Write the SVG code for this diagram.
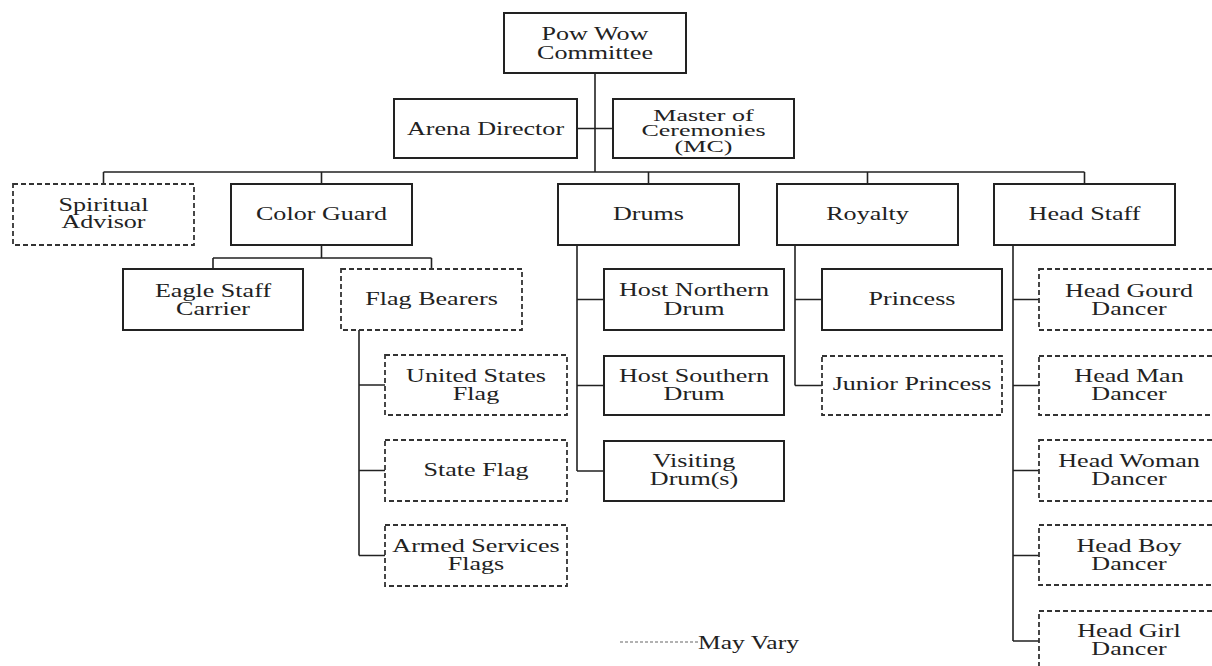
<svg xmlns="http://www.w3.org/2000/svg" width="1212" height="666" viewBox="0 0 1212 666">
<style>
.b{fill:#fff;stroke:#222;stroke-width:2}
.d{fill:#fff;stroke:#333;stroke-width:1.8;stroke-dasharray:5 3}
.c{fill:none;stroke:#222;stroke-width:1.6}
text{font-family:"Liberation Serif","Times New Roman",serif;font-size:18px;fill:#222;text-anchor:middle}
.s{font-size:17px}
</style>
<rect width="1212" height="666" fill="#fff"/>
<g id="connectors">
<path class="c" d="M595 73V172M577 128.5H613M103.5 172H1084.5M103.5 172V184M321.5 172V184M648.5 172V184M867.5 172V184M1084.5 172V184"/>
<path class="c" d="M321.5 245V258M213 258H431.5M213 258V269M431.5 258V269"/>
<path class="c" d="M359 330V555.5M359 385H385M359 470.5H385M359 555.5H385"/>
<path class="c" d="M577 245V471M577 299.5H604M577 385.5H604M577 471H604"/>
<path class="c" d="M795 245V385.5M795 299.5H822M795 385.5H822"/>
<path class="c" d="M1013 245V641M1013 299.5H1039M1013 385.5H1039M1013 470.5H1039M1013 555.5H1039M1013 641H1039"/>
</g>
<g id="powwow"><rect class="b" x="504" y="13" width="182" height="60"/><text transform="translate(595 40) scale(1.45 1)">Pow Wow</text><text transform="translate(595 59) scale(1.45 1)">Committee</text></g>
<g id="arena"><rect class="b" x="394" y="99" width="183" height="59"/><text transform="translate(485.5 135) scale(1.45 1)">Arena Director</text></g>
<g id="mc"><rect class="b" x="613" y="99" width="181" height="59"/><text class="s" transform="translate(703.5 120.5) scale(1.53 1)">Master of</text><text class="s" transform="translate(703.5 136) scale(1.53 1)">Ceremonies</text><text class="s" transform="translate(703.5 151.5) scale(1.53 1)">(MC)</text></g>
<g id="spiritual"><rect class="d" x="13" y="184" width="181" height="61"/><text transform="translate(103.5 211) scale(1.45 1)">Spiritual</text><text transform="translate(103.5 228) scale(1.45 1)">Advisor</text></g>
<g id="colorguard"><rect class="b" x="231" y="184" width="181" height="61"/><text transform="translate(321.5 220) scale(1.45 1)">Color Guard</text></g>
<g id="drums"><rect class="b" x="558" y="184" width="181" height="61"/><text transform="translate(648.5 220) scale(1.45 1)">Drums</text></g>
<g id="royalty"><rect class="b" x="777" y="184" width="181" height="61"/><text transform="translate(867.5 220) scale(1.45 1)">Royalty</text></g>
<g id="headstaff"><rect class="b" x="994" y="184" width="181" height="61"/><text transform="translate(1084.5 220) scale(1.45 1)">Head Staff</text></g>
<g id="eagle"><rect class="b" x="123" y="269" width="180" height="61"/><text transform="translate(213 297) scale(1.45 1)">Eagle Staff</text><text transform="translate(213 315) scale(1.45 1)">Carrier</text></g>
<g id="flagbearers"><rect class="d" x="341" y="269" width="181" height="61"/><text transform="translate(431.5 305) scale(1.45 1)">Flag Bearers</text></g>
<g id="usflag"><rect class="d" x="385" y="355" width="182" height="60"/><text transform="translate(476 382) scale(1.45 1)">United States</text><text transform="translate(476 400) scale(1.45 1)">Flag</text></g>
<g id="stateflag"><rect class="d" x="385" y="440" width="182" height="61"/><text transform="translate(476 476) scale(1.45 1)">State Flag</text></g>
<g id="armed"><rect class="d" x="385" y="525" width="182" height="61"/><text transform="translate(476 552) scale(1.45 1)">Armed Services</text><text transform="translate(476 570) scale(1.45 1)">Flags</text></g>
<g id="hostnorth"><rect class="b" x="604" y="269" width="180" height="61"/><text transform="translate(694 296) scale(1.45 1)">Host Northern</text><text transform="translate(694 315) scale(1.45 1)">Drum</text></g>
<g id="hostsouth"><rect class="b" x="604" y="356" width="180" height="59"/><text transform="translate(694 381.5) scale(1.45 1)">Host Southern</text><text transform="translate(694 399.5) scale(1.45 1)">Drum</text></g>
<g id="visiting"><rect class="b" x="604" y="441" width="180" height="60"/><text transform="translate(694 467) scale(1.45 1)">Visiting</text><text transform="translate(694 485) scale(1.45 1)">Drum(s)</text></g>
<g id="princess"><rect class="b" x="822" y="269" width="180" height="61"/><text transform="translate(912 305) scale(1.45 1)">Princess</text></g>
<g id="junior"><rect class="d" x="822" y="356" width="180" height="59"/><text transform="translate(912 390) scale(1.45 1)">Junior Princess</text></g>
<g id="headgourd"><rect class="d" x="1039" y="269" width="180" height="61"/><text transform="translate(1129 297) scale(1.45 1)">Head Gourd</text><text transform="translate(1129 315) scale(1.45 1)">Dancer</text></g>
<g id="headman"><rect class="d" x="1039" y="356" width="180" height="59"/><text transform="translate(1129 381.5) scale(1.45 1)">Head Man</text><text transform="translate(1129 399.5) scale(1.45 1)">Dancer</text></g>
<g id="headwoman"><rect class="d" x="1039" y="440" width="180" height="61"/><text transform="translate(1129 467) scale(1.45 1)">Head Woman</text><text transform="translate(1129 485) scale(1.45 1)">Dancer</text></g>
<g id="headboy"><rect class="d" x="1039" y="525" width="180" height="60"/><text transform="translate(1129 552) scale(1.45 1)">Head Boy</text><text transform="translate(1129 570) scale(1.45 1)">Dancer</text></g>
<g id="headgirl"><rect class="d" x="1039" y="611" width="180" height="60"/><text transform="translate(1129 637) scale(1.45 1)">Head Girl</text><text transform="translate(1129 655) scale(1.45 1)">Dancer</text></g>
<g id="legend"><path d="M620 642H698" fill="none" stroke="#999" stroke-width="1.5" stroke-dasharray="3 2"/><text style="text-anchor:start" transform="translate(698 649) scale(1.42 1)">May Vary</text></g>
</svg>
